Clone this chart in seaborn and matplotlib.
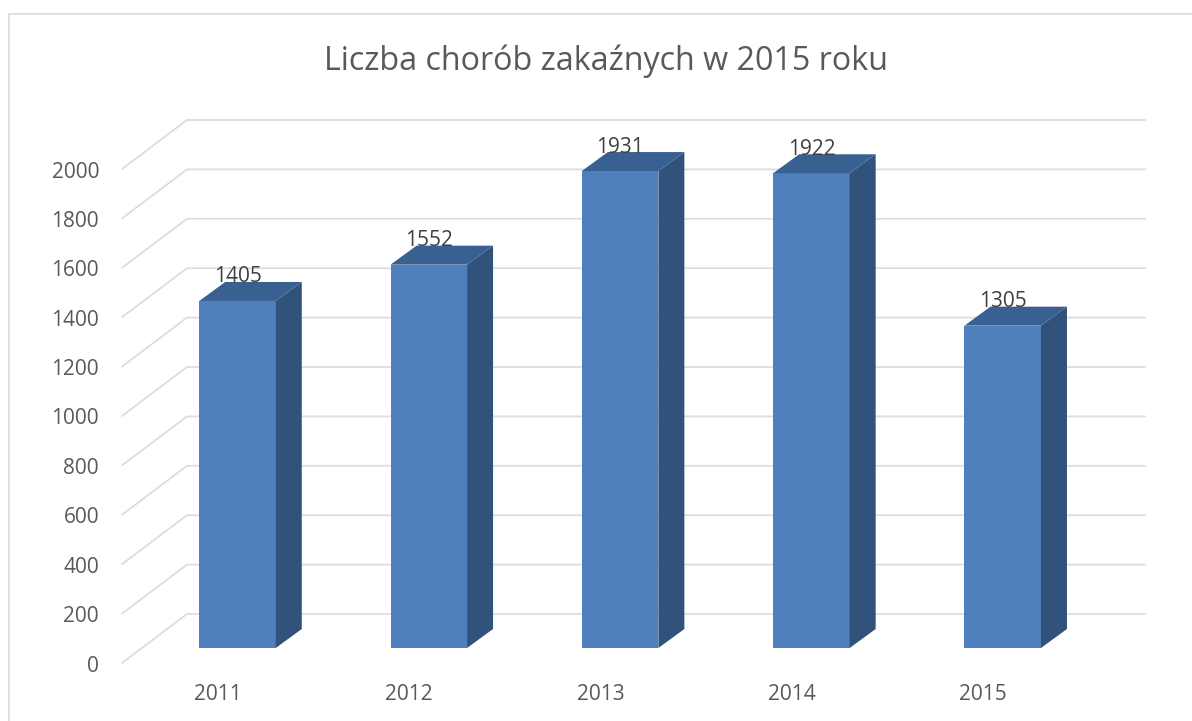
import matplotlib.pyplot as plt
import matplotlib.transforms as mtrans
from matplotlib.patches import Rectangle
import pandas as pd
import seaborn as sns

lata = ["2011", "2012", "2013", "2014", "2015"]
liczba = [1405, 1552, 1931, 1922, 1305]
y_ticks = [0, 200, 400, 600, 800, 1000, 1200, 1400, 1600, 1800, 2000]
tytul = "Liczba chorób zakaźnych w 2015 roku"

W, H = 1192, 721
px_x = 191.3  # pikseli na kategorie
px_y = 0.247  # pikseli na jednostke
x_left = 122
x_right = 1145
y_base = 648
y_top = 119

sns.set_theme(style="white")
plt.rcParams["font.family"] = ["Open Sans", "DejaVu Sans"]

df = pd.DataFrame({"rok": lata, "liczba": liczba})

fig = plt.figure(figsize=(W / 100, H / 100), dpi=100)
fig.patch.set_facecolor("white")
ax = fig.add_axes(
    [x_left / W, 1 - y_base / H, (x_right - x_left) / W, (y_base - y_top) / H]
)
ax.patch.set_alpha(0)

# ramka wykresu
fig.add_artist(
    Rectangle(
        (9 / W, -0.1),
        1.1,
        0.1 + (H - 14) / H,
        transform=fig.transFigure,
        fill=False,
        edgecolor="#D9D9D9",
        linewidth=1.2,
    )
)

sns.barplot(
    data=df,
    x="rok",
    y="liczba",
    width=0.4,
    color="#4F80BD",
    saturation=1,
    ax=ax,
    zorder=3,
)

xl = (x_left - 237.5) / px_x
xr = (x_right - 237.5) / px_x
ax.set_xlim(xl, xr)
ax.set_ylim(0, (y_base - y_top) / px_y)

# siatka: sciana tylna i skosy
dx_back, dy_back = 65 / px_x, 34 / px_y
dy_front = -15 / px_y
for v in y_ticks:
    ax.plot(
        [xl, xl + dx_back, xr],
        [v + dy_front, v + dy_back, v + dy_back],
        color="#DDDDDD",
        lw=1.3,
        clip_on=False,
        zorder=1,
        solid_joinstyle="miter",
    )

# boki i wierzch slupkow
dx_bar, dy_bar = 26 / px_x, 19 / px_y
for patch, v in zip(ax.patches, liczba):
    x0 = patch.get_x()
    x1 = x0 + patch.get_width()
    patch.set_linewidth(0)
    ax.fill(
        [x1, x1 + dx_bar, x1 + dx_bar, x1],
        [0, dy_bar, v + dy_bar, v],
        color="#31527A",
        lw=0,
        clip_on=False,
        zorder=3,
    )
    ax.fill(
        [x0, x1, x1 + dx_bar, x0 + dx_bar],
        [v, v, v + dy_bar, v + dy_bar],
        color="#386192",
        lw=0,
        clip_on=False,
        zorder=3,
    )
    ax.text(
        (x0 + x1) / 2,
        v + 24 / px_y,
        str(v),
        ha="center",
        va="center",
        fontsize=15,
        color="#404040",
        zorder=5,
    )

ax.set_yticks(y_ticks)
ax.set_xlabel("")
ax.set_ylabel("")
ax.tick_params(axis="y", length=0, pad=16.5, labelsize=15, labelcolor="#595959")
ax.tick_params(axis="x", length=0, pad=26, labelsize=15, labelcolor="#595959")
sns.despine(ax=ax, left=True, bottom=True)

# etykiety osi leza na przedniej krawedzi
przes_y = mtrans.ScaledTranslation(0, -15.5 / 100, fig.dpi_scale_trans)
przes_x = mtrans.ScaledTranslation(-19.5 / 100, 0, fig.dpi_scale_trans)
for lab in ax.get_yticklabels():
    lab.set_transform(lab.get_transform() + przes_y)
for lab in ax.get_xticklabels():
    lab.set_transform(lab.get_transform() + przes_x)

fig.text(
    606 / W,
    1 - 61 / H,
    tytul,
    ha="center",
    va="center",
    fontsize=23.2,
    color="#595959",
)

fig.savefig("out.png", dpi=100)
